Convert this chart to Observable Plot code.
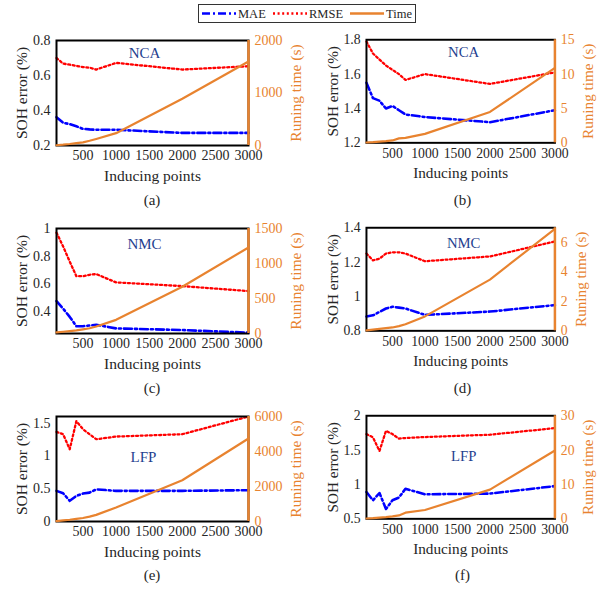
<!DOCTYPE html>
<html><head><meta charset="utf-8">
<script src="https://cdn.jsdelivr.net/npm/d3@7"></script>
<script src="https://cdn.jsdelivr.net/npm/@observablehq/plot@0.6"></script>
<style>
body{margin:0;background:#fff;}
#root{position:relative;width:605px;height:591px;font-family:"Liberation Serif","Times New Roman",serif;color:#262626;overflow:hidden;}
.layer{position:absolute;}
.cap{position:absolute;font-size:15px;transform:translate(-50%,-50%);white-space:nowrap;}
</style></head><body><div id="root"></div>
<script>
// ---- data ----
const inducingPoints = [100, 200, 300, 400, 500, 600, 700, 1000, 2000, 3000];
const xTicks = [500, 1000, 1500, 2000, 2500, 3000];
const xDomain = [100, 3000];

const ncaA_mae  = [0.362, 0.33, 0.322, 0.31, 0.295, 0.292, 0.29, 0.29, 0.272, 0.272];
const ncaA_rmse = [0.70, 0.668, 0.662, 0.655, 0.648, 0.645, 0.634, 0.672, 0.634, 0.653];
const ncaA_time = [5, 15, 28, 45, 60, 90, 125, 235, 890, 1600];

const ncaB_mae  = [1.55, 1.46, 1.445, 1.40, 1.415, 1.39, 1.365, 1.35, 1.32, 1.39];
const ncaB_rmse = [1.79, 1.72, 1.685, 1.65, 1.625, 1.60, 1.566, 1.60, 1.543, 1.61];
const ncaB_time = [0.05, 0.1, 0.18, 0.25, 0.35, 0.65, 0.72, 1.3, 4.5, 10.9];

const nmcC_mae  = [0.475, 0.42, 0.36, 0.293, 0.293, 0.298, 0.303, 0.277, 0.265, 0.246];
const nmcC_rmse = [0.97, 0.87, 0.76, 0.655, 0.655, 0.665, 0.67, 0.61, 0.583, 0.547];
const nmcC_time = [15, 25, 35, 45, 60, 75, 100, 195, 667, 1229];

const nmcD_mae  = [0.883, 0.89, 0.91, 0.93, 0.94, 0.935, 0.93, 0.893, 0.912, 0.95];
const nmcD_rmse = [1.25, 1.21, 1.22, 1.25, 1.257, 1.257, 1.25, 1.205, 1.233, 1.32];
const nmcD_time = [0.03, 0.08, 0.13, 0.18, 0.23, 0.32, 0.45, 0.98, 3.48, 6.93];

const lfpE_mae  = [0.467, 0.43, 0.315, 0.39, 0.426, 0.44, 0.49, 0.467, 0.467, 0.477];
const lfpE_rmse = [1.365, 1.33, 1.10, 1.53, 1.406, 1.33, 1.254, 1.294, 1.33, 1.6];
const lfpE_time = [20, 60, 100, 150, 200, 280, 380, 800, 2360, 4740];

const lfpF_mae  = [0.89, 0.77, 0.876, 0.643, 0.77, 0.81, 0.938, 0.857, 0.867, 0.976];
const lfpF_rmse = [1.733, 1.686, 1.486, 1.78, 1.733, 1.667, 1.676, 1.69, 1.724, 1.82];
const lfpF_time = [0.1, 0.2, 0.35, 0.5, 0.7, 1.0, 1.8, 2.57, 8.5, 19.9];

const yTicksA = [0.2, 0.4, 0.6, 0.8], tTicksA = [0, 1000, 2000];
const yTicksB = [1.2, 1.4, 1.6, 1.8], tTicksB = [0, 5, 10, 15];
const yTicksC = [0.4, 0.6, 0.8, 1],  tTicksC = [0, 500, 1000, 1500];
const yTicksD = [0.8, 1, 1.2, 1.4],  tTicksD = [0, 2, 4, 6];
const yTicksE = [0, 0.5, 1, 1.5],    tTicksE = [0, 2000, 4000, 6000];
const yTicksF = [0.5, 1, 1.5, 2],    tTicksF = [0, 10, 20, 30];

const seriesNames = ["MAE", "RMSE", "Time"];
const xLabel = "Inducing points";
const yLabel = "SOH error (%)";
const tLabel = "Runing time (s)";

// ---- styling ----
const ORANGE = "#e8832f";
const BLUE = "#0000ff";
const RED = "#ff0000";
const TITLE = "#1f3f8f";
const W = 300, H = 195, ML = 56, MR = 52, MT = 40, MB = 50;
const colLeft = [0, 310.5];
const rowTop = [0, 188.3, 375.7];

const panels = [
  {name:"NCA", cap:"(a)", mae:ncaA_mae, rmse:ncaA_rmse, time:ncaA_time, yDomain:[0.2,0.8], tDomain:[0,2000], yTicks:yTicksA, tTicks:tTicksA, col:0, row:0, dx:-8, dy:13},
  {name:"NCA", cap:"(b)", mae:ncaB_mae, rmse:ncaB_rmse, time:ncaB_time, yDomain:[1.2,1.8], tDomain:[0,15], yTicks:yTicksB, tTicks:tTicksB, col:1, row:0, dx:3, dy:13},
  {name:"NMC", cap:"(c)", mae:nmcC_mae, rmse:nmcC_rmse, time:nmcC_time, yDomain:[0.24,1], tDomain:[0,1500], yTicks:yTicksC, tTicks:tTicksC, col:0, row:1, dx:-8, dy:16},
  {name:"NMC", cap:"(d)", mae:nmcD_mae, rmse:nmcD_rmse, time:nmcD_time, yDomain:[0.8,1.4], tDomain:[0,7], yTicks:yTicksD, tTicks:tTicksD, col:1, row:1, dx:3, dy:16},
  {name:"LFP", cap:"(e)", mae:lfpE_mae, rmse:lfpE_rmse, time:lfpE_time, yDomain:[0,1.6], tDomain:[0,6000], yTicks:yTicksE, tTicks:tTicksE, col:0, row:2, dx:-9, dy:41},
  {name:"LFP", cap:"(f)", mae:lfpF_mae, rmse:lfpF_rmse, time:lfpF_time, yDomain:[0.5,2], tDomain:[0,30], yTicks:yTicksF, tTicks:tTicksF, col:1, row:2, dx:3, dy:41},
];

const root = document.getElementById("root");
const fmt = d => String(d);

function place(el, left, top, z) {
  const d = document.createElement("div");
  d.className = "layer";
  d.style.left = left + "px";
  d.style.top = top + "px";
  d.style.zIndex = z;
  d.appendChild(el);
  root.appendChild(d);
}

for (const p of panels) {
  const rows = inducingPoints.map((n, i) => ({n, mae: p.mae[i], rmse: p.rmse[i], time: p.time[i]}));
  const common = {
    width: W, height: H, marginLeft: ML, marginRight: MR, marginTop: MT, marginBottom: MB,
    style: {background: "transparent", fontFamily: "'Liberation Serif', serif", fontSize: "14px", color: "#262626", overflow: "visible"}
  };
  const maxTickLen = d3.max(p.tTicks, t => String(t).length);
  const rightLabelDx = 6 + 7 * maxTickLen + 14;
  const leftPlot = Plot.plot({
    ...common,
    x: {domain: xDomain},
    y: {domain: p.yDomain},
    marks: [
      Plot.axisX({ticks: xTicks, tickFormat: fmt, tickSize: 0, tickPadding: 5, label: null}),
      Plot.axisY({ticks: p.yTicks, tickFormat: fmt, tickSize: 0, tickPadding: 6, label: null}),
      Plot.line(rows, {x: "n", y: "rmse", stroke: RED, strokeWidth: 2.3, strokeDasharray: "2,2.6"}),
      Plot.line(rows, {x: "n", y: "mae", stroke: BLUE, strokeWidth: 2.6, strokeDasharray: "8,3,2,3"}),
      Plot.frame({stroke: "#000", strokeWidth: 2}),
      Plot.text([xLabel], {text: d => d, frameAnchor: "bottom", lineAnchor: "middle", dy: 31, fontSize: 15.5}),
      Plot.text([yLabel], {text: d => d, frameAnchor: "left", textAnchor: "middle", lineAnchor: "middle", rotate: -90, dx: -34, fontSize: 15.5}),
      Plot.text([p.name], {text: d => d, frameAnchor: "top", lineAnchor: "middle", dx: p.dx, dy: p.dy, fontSize: 15, fill: TITLE})
    ]
  });
  const rightPlot = Plot.plot({
    ...common,
    x: {domain: xDomain, axis: null},
    y: {domain: p.tDomain},
    marks: [
      Plot.axisY({anchor: "right", ticks: p.tTicks, tickFormat: fmt, tickSize: 0, tickPadding: 6, label: null, color: ORANGE}),
      Plot.line(rows, {x: "n", y: "time", stroke: ORANGE, strokeWidth: 2.2}),
      Plot.ruleX([xDomain[1]], {stroke: ORANGE, strokeWidth: 2.5}),
      Plot.text([tLabel], {text: d => d, frameAnchor: "right", textAnchor: "middle", lineAnchor: "middle", rotate: -90, dx: rightLabelDx, fontSize: 15.5, fill: ORANGE})
    ]
  });
  const L = colLeft[p.col], T = rowTop[p.row];
  place(leftPlot, L, T, 1);
  place(rightPlot, L, T, 2);
  const cap = document.createElement("div");
  cap.className = "cap";
  cap.textContent = p.cap;
  cap.style.left = (L + ML + (W - ML - MR) / 2) + "px";
  cap.style.top = (T + 199.5) + "px";
  root.appendChild(cap);
}

// ---- legend ----
const legendColors = [BLUE, RED, ORANGE];
const legendDash = ["8,3,2,3", "2,2.6", null];
const legendX = [4, 75, 152];
const lg = d3.create("svg").attr("width", 218).attr("height", 19)
  .style("font-family", "'Liberation Serif', serif").style("font-size", "12.5px").style("display", "block");
lg.append("rect").attr("x", 0.5).attr("y", 0.5).attr("width", 217).attr("height", 18)
  .attr("fill", "#fff").attr("stroke", "#333").attr("stroke-width", 1);
seriesNames.forEach((s, i) => {
  lg.append("line").attr("x1", legendX[i]).attr("x2", legendX[i] + 34).attr("y1", 9.5).attr("y2", 9.5)
    .attr("stroke", legendColors[i]).attr("stroke-width", 2.4).attr("stroke-dasharray", legendDash[i]);
  lg.append("text").attr("x", legendX[i] + 36).attr("y", 14).attr("fill", "#262626").text(s);
});
place(lg.node(), 198, 4, 3);
</script></body></html>
